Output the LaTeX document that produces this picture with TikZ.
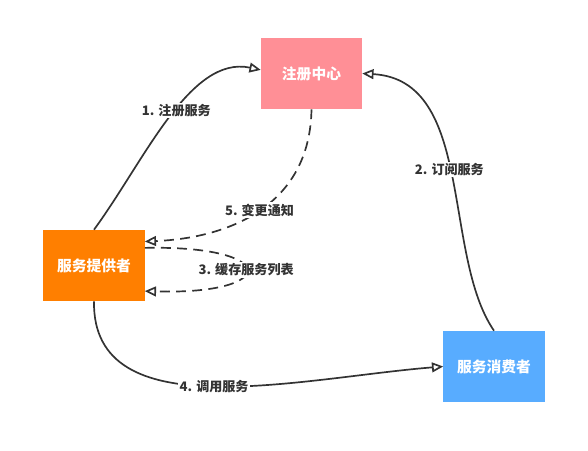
\documentclass[tikz,border=0pt]{standalone}
\usepackage{fontspec}
\setmainfont{Noto Sans CJK SC}
\usepackage{tikz}
\usetikzlibrary{arrows.meta, calc}
\usepackage{xcolor}
\definecolor{fenhong}{RGB}{255, 143, 150}
\definecolor{chengse}{RGB}{255, 127, 0}
\definecolor{lanse}{RGB}{88, 172, 255}
\definecolor{shenhui}{RGB}{51, 51, 51}

\begin{document}
\begin{tikzpicture}[
    x=0.025cm, y=-0.025cm,
    kuang/.style={
        rectangle,
        align=center,
        minimum width=2.525cm,
        minimum height=1.775cm,
        text=white,
        font=\fontsize{10.5}{12}\selectfont\bfseries
    },
    biaoqian/.style={
        fill=white,
        inner sep=1pt,
        text=shenhui,
        font=\fontsize{9.3}{11}\selectfont\bfseries
    },
    jiantou/.style={
        -{Triangle[open, length=8pt, width=7pt]},
        line width=1.2pt,
        shenhui
    },
    xujiantou/.style={
        jiantou,
        dash pattern=on 7pt off 4.5pt
    }
]
\useasboundingbox (0,0) rectangle (588,451);

\node[kuang, fill=fenhong] (zhuce) at (311.5,73.5) {注册中心};
\node[kuang, fill=chengse] (tigong) at (94,265.5) {服务提供者};
\node[kuang, fill=lanse] (xiaofei) at (494,366.5) {服务消费者};

\draw[jiantou] (tigong.north) .. controls (145,160) and (190,55)
    .. node[biaoqian, pos=0.54] {1. 注册服务} ([yshift=0.09cm]zhuce.west);
\draw[jiantou] (xiaofei.north) .. controls (442,255) and (475,80)
    .. node[biaoqian, pos=0.52] {2. 订阅服务} (zhuce.east);
\draw[xujiantou] ([yshift=0.44cm]tigong.east) .. controls (280,245) and (280,295)
    .. node[biaoqian, pos=0.5] {3. 缓存服务列表} ([yshift=-0.64cm]tigong.east);
\draw[jiantou] (tigong.south) .. controls (92,430) and (300,378)
    .. node[biaoqian, pos=0.5] {4. 调用服务} (xiaofei.west);
\draw[xujiantou] (zhuce.south) .. controls (310,205) and (230,238)
    .. node[biaoqian, pos=0.5] {5. 变更通知} ([yshift=0.6cm]tigong.east);

\end{tikzpicture}
\end{document}
